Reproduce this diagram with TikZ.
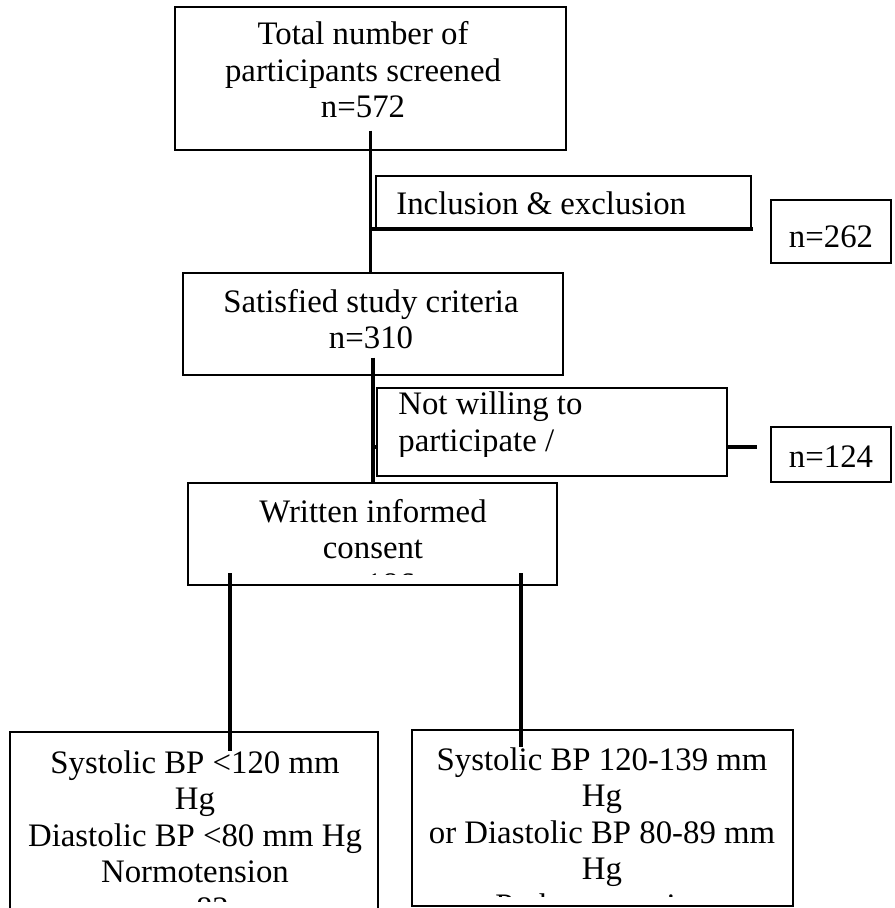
\documentclass[tikz,border=0pt]{standalone}
\usepackage{fontspec}
\setmainfont{Liberation Serif}
\usetikzlibrary{backgrounds}

\begin{document}
\begin{tikzpicture}[x=0.5pt, y=-0.5pt,
        box/.style={draw, line width=0.75pt, fill=white, inner sep=0pt},
        txt/.style={align=center, inner sep=0pt, font=\fontsize{16.4}{18.25}\selectfont},
        link/.style={line width=1.9pt}]

        % Bildausschnitt
        \clip (0, 0) rectangle (894, 908);

        % Zeichne die Kaesten
        \node[box, minimum width=195.5pt, minimum height=71.5pt] (total) at (370.5, 78.5) {};
        \node[box, minimum width=187.5pt, minimum height=26pt] (incl) at (563.5, 202) {};
        \node[box, minimum width=60pt, minimum height=31.5pt] (inclN) at (831, 231.5) {};
        \node[box, minimum width=190pt, minimum height=51pt] (satisfied) at (373, 324) {};
        \node[box, minimum width=175pt, minimum height=44pt] (refuse) at (552, 432) {};
        \node[box, minimum width=60pt, minimum height=27.5pt] (refuseN) at (831, 454.5) {};
        \node[box, minimum width=184.5pt, minimum height=51pt] (written) at (372.5, 534) {};
        \node[box, minimum width=184pt, minimum height=94pt] (normal) at (194, 826) {};
        \node[box, minimum width=190.5pt, minimum height=88pt] (prehyp) at (602.5, 818) {};

        % Beschriftung der Kaesten (Grundlinie der letzten Zeile)
        \node[txt, anchor=base] (totalText) at (363, 118) {Total number of\\participants screened\\n=572};
        \node[txt, anchor=base west] (inclText) at (396, 215) {Inclusion \& exclusion};
        \node[txt, anchor=base] (inclNText) at (831, 248) {n=262};
        \node[txt, anchor=base] (satisfiedText) at (371, 349) {Satisfied study criteria\\n=310};
        \begin{scope}
            \clip (377, 388) rectangle (727, 456);
            \node[txt, align=left, anchor=base west] (refuseText) at (398, 451) {Not willing to\\participate /};
        \end{scope}
        \node[txt, anchor=base] (refuseNText) at (831, 467) {n=124};
        \begin{scope}
            \clip (188, 483) rectangle (557, 574);
            \node[txt, anchor=base] (writtenText) at (373, 595) {Written informed\\consent\\n=186};
        \end{scope}
        \begin{scope}
            \clip (10, 732) rectangle (378, 901);
            \node[txt, anchor=base] (normalText) at (195, 919) {Systolic BP <120 mm\\Hg\\Diastolic BP <80 mm Hg\\Normotension\\n=82};
        \end{scope}
        \begin{scope}
            \clip (412, 730) rectangle (793, 896);
            \node[txt, anchor=base] (prehypText) at (602, 916) {Systolic BP 120-139 mm\\Hg\\or Diastolic BP 80-89 mm\\Hg\\Prehypertension};
        \end{scope}

        % Abzweigungen zu den Ausschluessen (hinter den Kaesten)
        \coordinate (inclEnd) at (753, 229);
        \coordinate (refuseEnd) at (757, 447);
        \begin{scope}[on background layer]
            \draw[link] (total.south |- inclEnd) -- (inclEnd);
            \draw[link] (satisfied.south |- refuseEnd) -- (refuseEnd);
        \end{scope}

        % Senkrechte Linien
        \draw[link] ([yshift=10pt]total.south) -- (total.south |- satisfied.north);
        \draw[link] ([yshift=9pt]satisfied.south) -- (satisfied.south |- written.north);
        \coordinate (dropL) at (230, 573);
        \coordinate (dropR) at (521, 573);
        \draw[link] (dropL) -- (dropL |- normal.north) -- ++(0, 20);
        \draw[link] (dropR) -- (dropR |- prehyp.north) -- ++(0, 18);
    \end{tikzpicture}
\end{document}
